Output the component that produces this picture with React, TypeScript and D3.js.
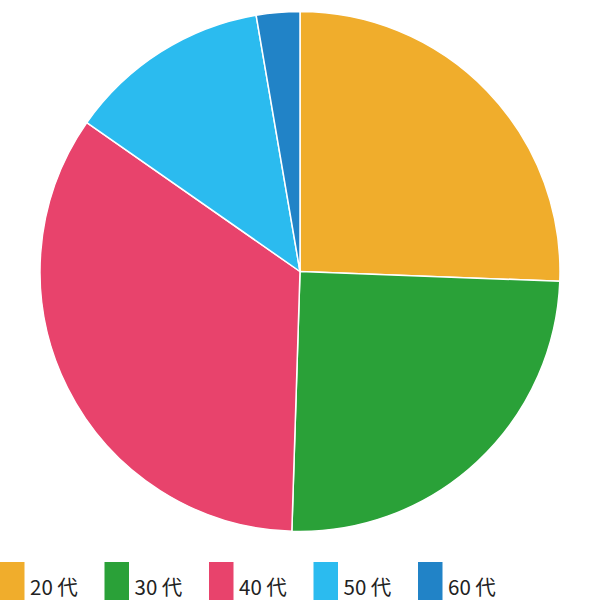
import React from "react";
import * as d3 from "d3";

const categories = ["20 代", "30 代", "40 代", "50 代", "60 代"];
const values = [25.6, 24.9, 34.2, 12.6, 2.7];
const colors = ["#f0ad2c", "#2aa138", "#e8436c", "#2bbbef", "#2183c7"];

export default function App() {
  const W = 600, H = 600;
  const cx = 300, cy = 271.5, r = 260;
  const pie = d3.pie<number>().sort(null).value((d) => d);
  const arcs = pie(values);
  const arc = d3.arc<d3.PieArcDatum<number>>().innerRadius(0).outerRadius(r);
  const legendX = d3.scaleLinear().domain([0, 1]).range([0, 104.5]);
  return (
    <svg width={W} height={H} style={{ position: "absolute", left: 0, top: 0 }}>
      <g transform={`translate(${cx},${cy})`}>
        {arcs.map((a, i) => (
          <path key={i} d={arc(a) || ""} fill={colors[i]} stroke="#fff" strokeWidth={1.5} strokeLinejoin="round" />
        ))}
      </g>
      <g>
        {categories.map((c, i) => (
          <g key={c} transform={`translate(${legendX(i)},562)`}>
            <rect x={0} y={0} width={24.5} height={38} fill={colors[i]} />
            <text x={30} y={33} fontSize={20.5} fill="#222" fontFamily="'Noto Sans CJK JP', 'Noto Sans', sans-serif">{c}</text>
          </g>
        ))}
      </g>
    </svg>
  );
}
